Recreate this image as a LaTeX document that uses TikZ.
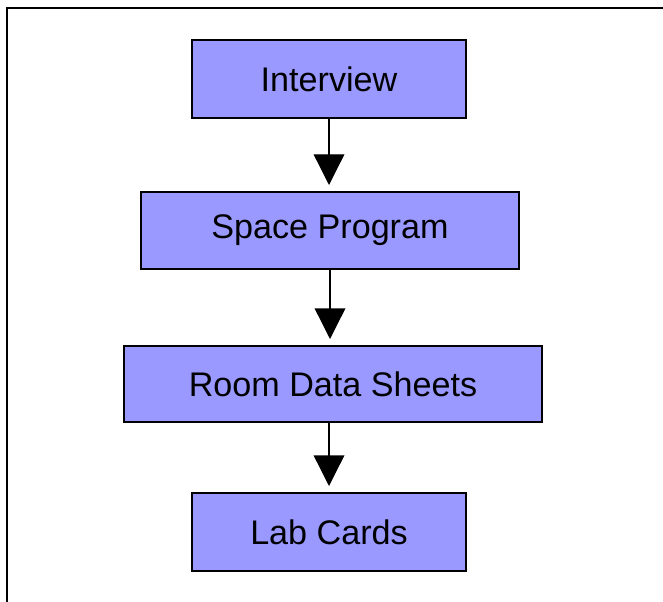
\documentclass[tikz,border=0pt]{standalone}
\usepackage{fontspec}
\setmainfont{Liberation Sans}
\usetikzlibrary{arrows.meta}
\definecolor{boxblue}{RGB}{153,153,255}

\begin{document}
\begin{tikzpicture}[x=0.75pt, y=-0.75pt,
        stepbox/.style={draw, line width=1.5pt, fill=boxblue, inner sep=0pt,
            font=\fontsize{25.6}{30}\selectfont},
        flow/.style={line width=1pt, shorten >=4.5pt,
            -{Triangle[width=23pt, length=23pt]}}]
        \useasboundingbox (0,0) rectangle (663,602);
        \draw[line width=1.5pt] (7,602) -- (7,8) -- (663,8);
        \node[stepbox, minimum width=206pt, minimum height=58.5pt] (interview) at (329,79) {Interview};
        \node[stepbox, minimum width=283.5pt, minimum height=57.75pt] (space) at (330,230.5) {Space Program};
        \node[stepbox, minimum width=313.5pt, minimum height=57pt] (room) at (333,384) {Room Data Sheets};
        \node[stepbox, minimum width=206pt, minimum height=58.5pt] (lab) at (329,532) {Lab Cards};
        \draw[flow] (interview.south) -- (interview.south |- space.north);
        \draw[flow] (space.south) -- (space.south |- room.north);
        \draw[flow] (room.south -| lab.north) -- (lab.north);
        \end{tikzpicture}
\end{document}
